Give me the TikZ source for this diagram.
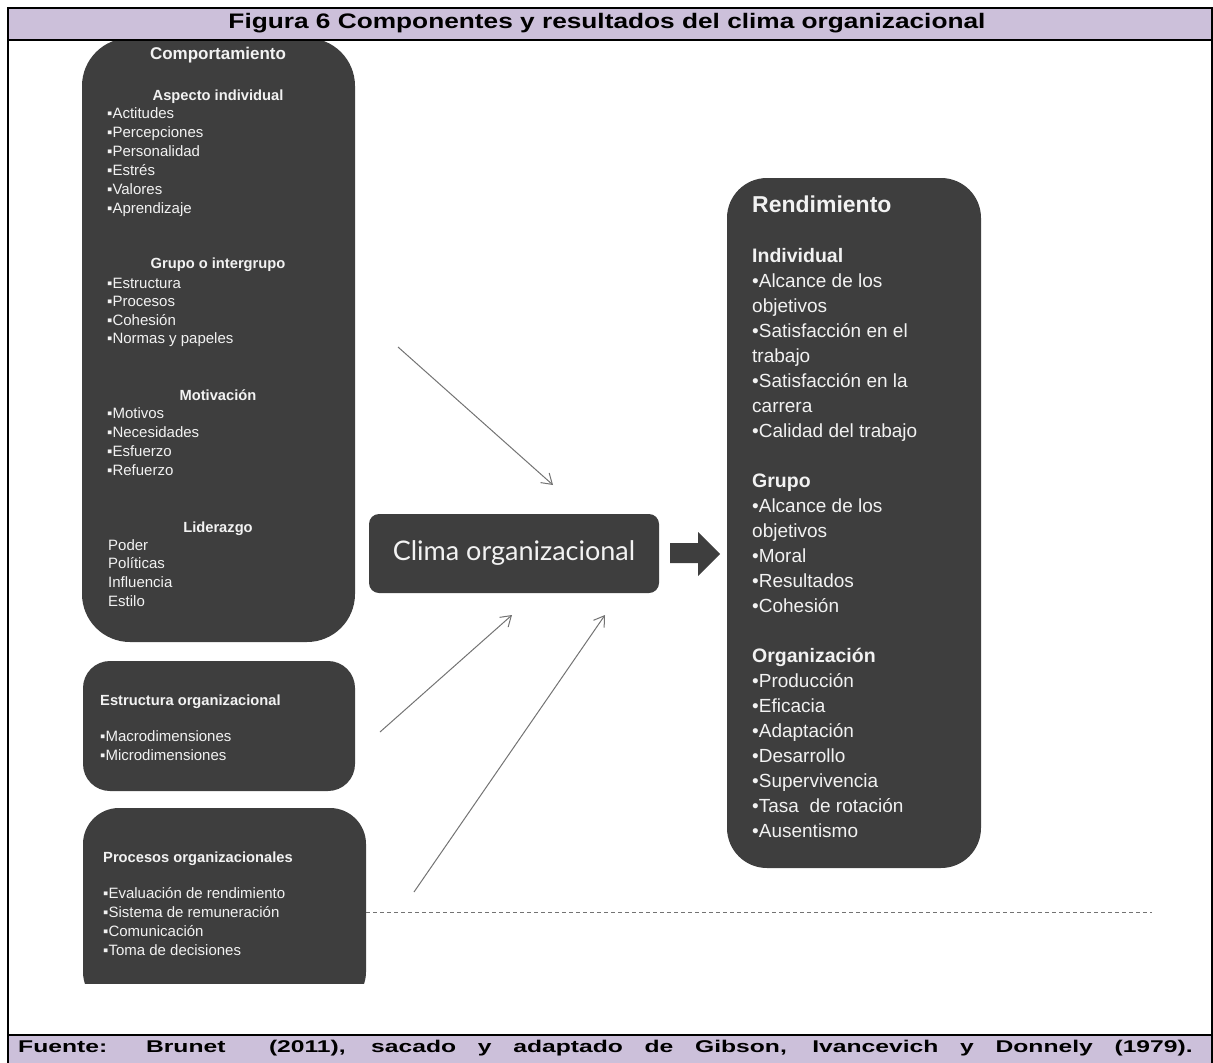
\documentclass[tikz,border=0pt]{standalone}
\usepackage{fontspec}
\setmainfont{Liberation Sans}
\newfontfamily\climafont{Lato}
\usetikzlibrary{arrows.meta}

\definecolor{grisoscuro}{RGB}{62,62,62}
\definecolor{lila}{RGB}{204,192,218}
\definecolor{linea}{RGB}{115,115,115}
\definecolor{blanco}{RGB}{242,242,242}

\begin{document}
\begin{tikzpicture}[
    x=1pt, y=-1pt,
    caja/.style = {fill=grisoscuro, draw=none, inner sep=0pt},
    encabezado/.style = {font=\fontsize{14.7}{14.7}\selectfont\bfseries, text=blanco, inner sep=0pt},
    item/.style = {font=\fontsize{15}{15}\selectfont, text=blanco, anchor=base west, inner sep=0pt},
    ritem/.style = {font=\fontsize{19}{19}\selectfont, text=blanco, anchor=base west, inner sep=0pt},
    rcab/.style = {font=\fontsize{19.5}{19.5}\selectfont\bfseries, text=blanco, anchor=base west, inner sep=0pt},
    vector/.style = {draw=linea, line width=1pt, -{Straight Barb[length=10pt, width=13pt]}}
    ]
    \useasboundingbox (0,0) rectangle (1213,1063);

    % cajas
    \node[caja, rounded corners=48pt, minimum width=273pt, minimum height=604pt] (comp) at (218.5,340) {};
    \node[caja, rounded corners=27pt, minimum width=272pt, minimum height=130pt] (estr) at (219,726) {};
    \begin{scope}
      \clip (0,0) rectangle (1213,983);
      \node[caja, rounded corners=36pt, minimum width=283pt, minimum height=200pt] (proc) at (224.5,908) {};
    \end{scope}
    \node[caja, rounded corners=10pt, minimum width=290pt, minimum height=79pt,
      text=blanco, font=\climafont\fontsize{27}{27}\selectfont] (clima) at (514,553.5) {Clima organizacional};
    \node[caja, rounded corners=40pt, minimum width=254pt, minimum height=690pt] (rend) at (854,523) {};

    % marco, titulo y fuente
    \fill[lila] (7,8) rectangle (1213,39);
    \fill[lila] (7,1036) rectangle (1213,1063);
    \draw[line width=2pt] (7,7.5) -- (1213,7.5);
    \draw[line width=2pt] (7,39.5) -- (1213,39.5);
    \draw[line width=2pt] (7,1035) -- (1213,1035);
    \draw[line width=2pt] (8,7) -- (8,1063);
    \draw[line width=1.5pt] (1212.2,7) -- (1212.2,1063);
    \node[font=\fontsize{21}{21}\selectfont\bfseries, anchor=base, inner sep=0pt] (titulo) at (607,28)
      {\resizebox{757pt}{\height}{Figura 6 Componentes y resultados del clima organizacional}};
    \node[font=\fontsize{17}{17}\selectfont\bfseries, anchor=base west, inner sep=0pt] (fuente) at (18,1052)
      {\scalebox{1.45}[1]{\makebox[810pt][s]{Fuente: Brunet\ \ (2011), sacado y adaptado de Gibson, Ivancevich y Donnely (1979).}}};

    % comportamiento
    \node[encabezado, anchor=base, font=\fontsize{17}{17}\selectfont\bfseries] (hcomp) at (218,59) {Comportamiento};
    \foreach \y/\t in {100/Aspecto individual, 268/Grupo o intergrupo, 400/Motivación, 532/Liderazgo}
      \node[encabezado, anchor=base] (h\y) at (218,\y) {\t};
    \foreach \y/\t in {118/Actitudes, 137/Percepciones, 156/Personalidad, 175/Estrés,
        194/Valores, 213/Aprendizaje, 288/Estructura, 306/Procesos, 325/Cohesión,
        343/Normas y papeles, 418/Motivos, 437/Necesidades, 456/Esfuerzo, 475/Refuerzo}
      \node[item] (c\y) at (107,\y) {▪\t};
    \foreach \y/\t in {550/Poder, 568/Políticas, 587/Influencia, 606/Estilo}
      \node[item] (c\y) at (108,\y) {\t};

    % estructura y procesos
    \node[encabezado, anchor=base west] (hestr) at (100,705) {Estructura organizacional};
    \node[item] (e1) at (100,741) {▪Macrodimensiones};
    \node[item] (e2) at (100,760) {▪Microdimensiones};
    \node[encabezado, anchor=base west] (hproc) at (103,862) {Procesos organizacionales};
    \foreach \y/\t in {898/Evaluación de rendimiento, 917/Sistema de remuneración,
        936/Comunicación, 955/Toma de decisiones}
      \node[item] (p\y) at (103,\y) {▪\t};

    % rendimiento
    \node[font=\fontsize{23}{23}\selectfont\bfseries, text=blanco, anchor=base west, inner sep=0pt] (rtit) at (752,212) {Rendimiento};
    \foreach \i/\t in {0/Individual, 9/Grupo, 16/Organización}
      \node[rcab] (r\i) at (752,262+25*\i) {\t};
    \foreach \i/\t in {1/•Alcance de los, 2/objetivos, 3/•Satisfacción en el, 4/trabajo,
        5/•Satisfacción en la, 6/carrera, 7/•Calidad del trabajo, 10/•Alcance de los,
        11/objetivos, 12/•Moral, 13/•Resultados, 14/•Cohesión, 17/•Producción,
        18/•Eficacia, 19/•Adaptación, 20/•Desarrollo, 21/•Supervivencia,
        22/•Tasa\ \ de rotación, 23/•Ausentismo}
      \node[ritem] (r\i) at (752,262+25*\i) {\t};

    % flechas
    \coordinate (a1) at (398,347);
    \coordinate (b1) at (553,485);
    \coordinate (a2) at (380,732);
    \coordinate (b2) at (512,615);
    \coordinate (a3) at (414,892);
    \coordinate (b3) at (605,615);
    \draw[vector] (a1) -- (b1);
    \draw[vector] (a2) -- (b2);
    \draw[vector] (a3) -- (b3);
    \fill[grisoscuro] (670,543) -- (698,543) -- (698,532) -- (720,554) -- (698,576)
      -- (698,563) -- (670,563) -- cycle;
    \draw[draw=linea, line width=0.8pt, dash pattern=on 4pt off 3pt] (proc.east |- 0,912) -- (1152,912);
\end{tikzpicture}
\end{document}
